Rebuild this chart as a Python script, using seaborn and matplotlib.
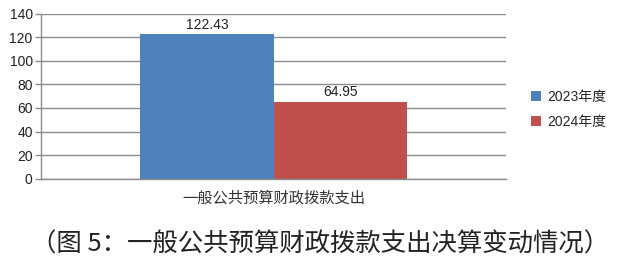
import matplotlib
matplotlib.use("Agg")
import matplotlib.pyplot as plt
from matplotlib.patches import Patch
import seaborn as sns
import pandas as pd

# Data
category = ["一般公共预算财政拨款支出"]
years = ["2023年度", "2024年度"]
values = [122.43, 64.95]
colors = ["#4F81BD", "#C0504D"]
yticks = [0, 20, 40, 60, 80, 100, 120, 140]
caption = "（图 5：一般公共预算财政拨款支出决算变动情况）"

df = pd.DataFrame({"类别": category * len(years), "年度": years, "金额": values})

sns.set_theme(style="white")
plt.rcParams["font.family"] = ["Liberation Sans", "Noto Sans CJK SC", "DejaVu Sans"]

fig = plt.figure(figsize=(6.4, 2.66), dpi=100)
ax = fig.add_axes([0.064, 0.328, 0.727, 0.621])

sns.barplot(data=df, x="类别", y="金额", hue="年度", palette=colors,
            width=0.573, gap=0, ax=ax, legend=False, saturation=1,
            linewidth=0, edgecolor="none")

ax.set_xlim(-0.5, 0.5)
ax.set_ylim(0, 140)
ax.set_yticks(yticks)
ax.set_yticklabels([str(t) for t in yticks], fontsize=10, color="#222222")
ax.yaxis.grid(True, color="#8c8c8c", linewidth=1.0)
ax.set_axisbelow(True)

# value labels above each bar
for cont in ax.containers:
    ax.bar_label(cont, labels=[f"{v:.2f}" for v in cont.datavalues],
                 padding=2, fontsize=10, color="#222222")

ax.set_xlabel("")
ax.set_ylabel("")
ax.set_xticks([0])
ax.set_xticklabels(category, fontsize=11, family=["Noto Sans CJK SC"], color="#333333")
ax.tick_params(axis="x", length=0, pad=8)
ax.set_xticks([-0.5, 0.5], minor=True)
ax.tick_params(axis="x", which="minor", length=4, width=1, color="#8c8c8c", direction="out")
ax.tick_params(axis="y", length=4, width=1, color="#8c8c8c", direction="out", left=True, pad=2)

for s in ["top", "right"]:
    ax.spines[s].set_visible(False)
for s in ["left", "bottom"]:
    ax.spines[s].set_color("#8c8c8c")
    ax.spines[s].set_linewidth(1.0)

handles = [Patch(facecolor=c, edgecolor="none") for c in colors]
fig.legend(handles, years, loc="center left", bbox_to_anchor=(0.81, 0.59),
           frameon=False, handlelength=0.7, handleheight=0.7,
           handletextpad=0.5, labelspacing=0.8, prop={"size": 10})

fig.text(0.5, 0.08, caption, ha="center", va="center", fontsize=18.3,
         family=["Noto Sans CJK SC"], color="#222222")

fig.savefig("out.png", dpi=100, facecolor="white")
